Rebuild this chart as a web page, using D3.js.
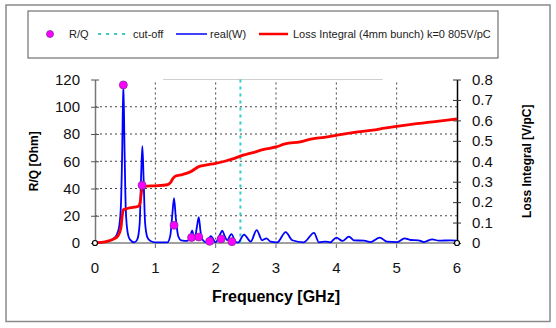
<!DOCTYPE html>
<html>
<head>
<meta charset="utf-8">
<script src="https://cdn.jsdelivr.net/npm/d3@7"></script>
<style>
  body { margin: 0; background: #fff; }
  text { font-family: "Liberation Sans", Arial, sans-serif; }
</style>
</head>
<body>
<div id="chart"></div>
<script>
// frequency [GHz] and real(W) samples of the blue curve
var wFreq = [0, 0.1, 0.21, 0.3, 0.36, 0.4, 0.43, 0.45, 0.47, 0.49, 0.51, 0.54, 0.58, 0.65,
  0.7, 0.74, 0.765, 0.785, 0.805, 0.83, 0.87, 0.92, 1.0, 1.2, 1.25, 1.28, 1.31, 1.34, 1.38, 1.43,
  1.53, 1.58, 1.61, 1.65, 1.69, 1.72, 1.75, 1.79, 1.84, 1.92, 2.0, 2.07, 2.11, 2.15, 2.19, 2.26,
  2.33, 2.37, 2.47, 2.58, 2.68, 2.77, 2.84, 2.91, 3.02, 3.16, 3.27, 3.46, 3.63, 3.71, 3.82, 3.9,
  4.0, 4.1, 4.21, 4.29, 4.46, 4.57, 4.72, 4.84, 5.01, 5.13, 5.23, 5.36, 5.45, 5.59, 5.7, 5.89, 6.0];
var wReal = [0, 0.5, 1.2, 3, 6, 12, 28, 65, 117, 68, 25, 8, 2.5, 0.5,
  2.5, 14, 50, 71, 48, 15, 4, 1.5, 0.5, 0.5, 6, 20, 33, 18, 5, 2,
  1.5, 5, 9, 3, 12, 19, 8, 2, 0.5, 5, 0.5, 6, 9, 5, 2, 6.5,
  1, 0.3, 6.2, 1, 9.5, 2, 3.4, 1, 0.5, 8, 2, 0.5, 7.5, 0.5, 1, 0.5,
  4, 1.5, 4.7, 2, 1.7, 0.7, 4, 1, 0.7, 3.4, 2.2, 2, 0.7, 2.7, 1.7, 2, 1.7];

// loss integral [V/pC]
var lossFreq = [0, 0.1, 0.2, 0.3, 0.38, 0.43, 0.45, 0.47, 0.55, 0.65, 0.72, 0.75, 0.77, 0.79, 0.85,
  1.0, 1.2, 1.25, 1.29, 1.33, 1.45, 1.58, 1.73, 1.85, 2.0, 2.15, 2.3, 2.41, 2.5, 2.65, 2.8, 3.0,
  3.15, 3.4, 3.6, 3.8, 4.0, 4.3, 4.6, 4.8, 5.0, 5.3, 5.6, 6.0];
var lossVal = [0, 0.003, 0.008, 0.018, 0.035, 0.075, 0.13, 0.163, 0.17, 0.175, 0.18, 0.2, 0.25, 0.274, 0.278,
  0.28, 0.285, 0.295, 0.315, 0.327, 0.335, 0.348, 0.375, 0.382, 0.39, 0.4, 0.413, 0.425, 0.433, 0.445, 0.458, 0.47,
  0.485, 0.495, 0.51, 0.517, 0.527, 0.541, 0.552, 0.562, 0.571, 0.583, 0.593, 0.607];

// R/Q of the modes
var rqFreq = [0.47, 0.78, 1.31, 1.6, 1.72, 1.9, 2.09, 2.27];
var rqVal = [116, 42.4, 13, 4, 4.4, 1.2, 3, 1];

var cutoff = 2.41;
var xTicks = [0, 1, 2, 3, 4, 5, 6];
var yTicks = [0, 20, 40, 60, 80, 100, 120];
var y2Ticks = [0, 0.1, 0.2, 0.3, 0.4, 0.5, 0.6, 0.7, 0.8];
var legendLabels = ["R/Q", "cut-off", "real(W)", "Loss Integral (4mm bunch) k=0 805V/pC"];

var svgWidth = 556, svgHeight = 328;
var plotLeft = 95, plotRight = 457, plotTop = 79.5, plotBottom = 243;

var svg = d3.select("#chart").append("svg")
  .attr("width", svgWidth)
  .attr("height", svgHeight);

// outer frame
svg.append("rect")
  .attr("x", 6).attr("y", 5).attr("width", 544).attr("height", 316.5)
  .attr("fill", "none").attr("stroke", "#8a8a8a").attr("stroke-width", 1.5);

var x = d3.scaleLinear().domain([0, 6]).range([plotLeft, plotRight]);
var y = d3.scaleLinear().domain([0, 120]).range([plotBottom, plotTop]);
var y2 = d3.scaleLinear().domain([0, 0.8]).range([plotBottom, plotTop]);

// grid
svg.selectAll(".hgrid").data(yTicks.slice(1, -1)).enter().append("line")
  .attr("x1", plotLeft).attr("x2", plotRight)
  .attr("y1", d => y(d)).attr("y2", d => y(d))
  .attr("stroke", "#444").attr("stroke-dasharray", "2,3").attr("stroke-width", 1);
svg.selectAll(".vgrid").data(xTicks.slice(1, -1)).enter().append("line")
  .attr("x1", d => x(d)).attr("x2", d => x(d))
  .attr("y1", plotTop + 3).attr("y2", plotBottom)
  .attr("stroke", "#444").attr("stroke-dasharray", "2,3").attr("stroke-width", 1);
svg.selectAll(".vtick").data(xTicks.slice(1, -1)).enter().append("line")
  .attr("x1", d => x(d)).attr("x2", d => x(d))
  .attr("y1", plotBottom).attr("y2", plotBottom + 5)
  .attr("stroke", "#666");

// odd partial top line
svg.append("line")
  .attr("x1", x(1.13)).attr("x2", x(4.77)).attr("y1", plotTop).attr("y2", plotTop)
  .attr("stroke", "#cfcfcf").attr("stroke-width", 1.2);

// bottom axis
svg.append("line")
  .attr("x1", plotLeft).attr("x2", plotRight).attr("y1", plotBottom).attr("y2", plotBottom)
  .attr("stroke", "#a0a0a0").attr("stroke-width", 2);
svg.selectAll(".xlab").data(xTicks).enter().append("text")
  .attr("x", d => x(d)).attr("y", plotBottom + 30)
  .attr("text-anchor", "middle").style("font-size", "15px").attr("fill", "#111")
  .text(d => d);

// left axis
var leftAxis = d3.axisLeft(y).tickValues(yTicks).tickSize(0).tickPadding(15);
var gl = svg.append("g").attr("transform", `translate(${plotLeft},0)`).call(leftAxis);
gl.select(".domain").attr("stroke", "#777").attr("stroke-width", 1.5);
gl.selectAll("text").style("font-size", "15px").attr("fill", "#111")
  .attr("font-family", "Liberation Sans, Arial, sans-serif");
gl.selectAll(".tick").append("line").attr("x1", -4).attr("x2", 4).attr("stroke", "#555");

// right axis
var rightAxis = d3.axisRight(y2).tickValues(y2Ticks).tickSize(0).tickPadding(15)
  .tickFormat(d => d === 0 ? "0" : d3.format(".1f")(d));
var gr = svg.append("g").attr("transform", `translate(${plotRight},0)`).call(rightAxis);
gr.select(".domain").attr("stroke", "#000").attr("stroke-width", 1.5);
gr.selectAll("text").style("font-size", "15px").attr("fill", "#111")
  .attr("font-family", "Liberation Sans, Arial, sans-serif");
gr.selectAll(".tick").append("line").attr("x1", -4).attr("x2", 4).attr("stroke", "#333");

// cut-off line
svg.append("line")
  .attr("x1", x(cutoff)).attr("x2", x(cutoff)).attr("y1", plotTop).attr("y2", plotBottom)
  .attr("stroke", "#33cccc").attr("stroke-width", 2).attr("stroke-dasharray", "3,4");

// real(W)
var wData = wFreq.map((f, i) => [f, wReal[i]]);
svg.append("path").datum(wData)
  .attr("fill", "none").attr("stroke", "#0000ff").attr("stroke-width", 1.8)
  .attr("d", d3.line().x(d => x(d[0])).y(d => y(d[1])).curve(d3.curveMonotoneX));

// loss integral
var lossData = lossFreq.map((f, i) => [f, lossVal[i]]);
svg.append("path").datum(lossData)
  .attr("fill", "none").attr("stroke", "#ff0000").attr("stroke-width", 2.8)
  .attr("d", d3.line().x(d => x(d[0])).y(d => y2(d[1])).curve(d3.curveMonotoneX));

// R/Q markers
svg.selectAll(".rq").data(rqFreq).enter().append("circle")
  .attr("cx", d => x(d)).attr("cy", (d, i) => y(rqVal[i])).attr("r", 4)
  .attr("fill", "#ff00ff").attr("stroke", "#8030a0").attr("stroke-width", 0.8);

// end markers
svg.selectAll(".endm").data([0, 6]).enter().append("circle")
  .attr("cx", d => x(d)).attr("cy", y(0)).attr("r", 2.5)
  .attr("fill", "#fff").attr("stroke", "#000").attr("stroke-width", 1.2);

// axis titles
svg.append("text")
  .attr("transform", `translate(38,${(plotTop + plotBottom) / 2}) rotate(-90)`)
  .attr("text-anchor", "middle").style("font-size", "12px").style("font-weight", "bold")
  .text("R/Q [Ohm]");
svg.append("text")
  .attr("transform", `translate(531,${(plotTop + plotBottom) / 2}) rotate(-90)`)
  .attr("text-anchor", "middle").style("font-size", "12px").style("font-weight", "bold")
  .text("Loss Integral [V/pC]");
svg.append("text")
  .attr("x", (plotLeft + plotRight) / 2).attr("y", 302)
  .attr("text-anchor", "middle").style("font-size", "16px").style("font-weight", "bold")
  .text("Frequency [GHz]");

// legend
var lg = svg.append("g");
lg.append("rect").attr("x", 28).attr("y", 11).attr("width", 470).attr("height", 47)
  .attr("fill", "#fff").attr("stroke", "#555").attr("stroke-width", 1);
var ly = 34;
lg.append("circle").attr("cx", 50).attr("cy", ly).attr("r", 3.5)
  .attr("fill", "#ff00ff").attr("stroke", "#8030a0").attr("stroke-width", 0.8);
lg.append("line").attr("x1", 98).attr("x2", 128).attr("y1", ly).attr("y2", ly)
  .attr("stroke", "#33cccc").attr("stroke-width", 2).attr("stroke-dasharray", "3,5");
lg.append("line").attr("x1", 176).attr("x2", 207).attr("y1", ly).attr("y2", ly)
  .attr("stroke", "#0000ff").attr("stroke-width", 1.5);
lg.append("line").attr("x1", 259).attr("x2", 288).attr("y1", ly).attr("y2", ly)
  .attr("stroke", "#ff0000").attr("stroke-width", 2.5);
var lx = [69, 133, 210, 293];
lg.selectAll(".ltext").data(legendLabels).enter().append("text")
  .attr("x", (d, i) => lx[i]).attr("y", ly + 4)
  .style("font-size", "11px").attr("fill", "#222")
  .text(d => d);
</script>
</body>
</html>
